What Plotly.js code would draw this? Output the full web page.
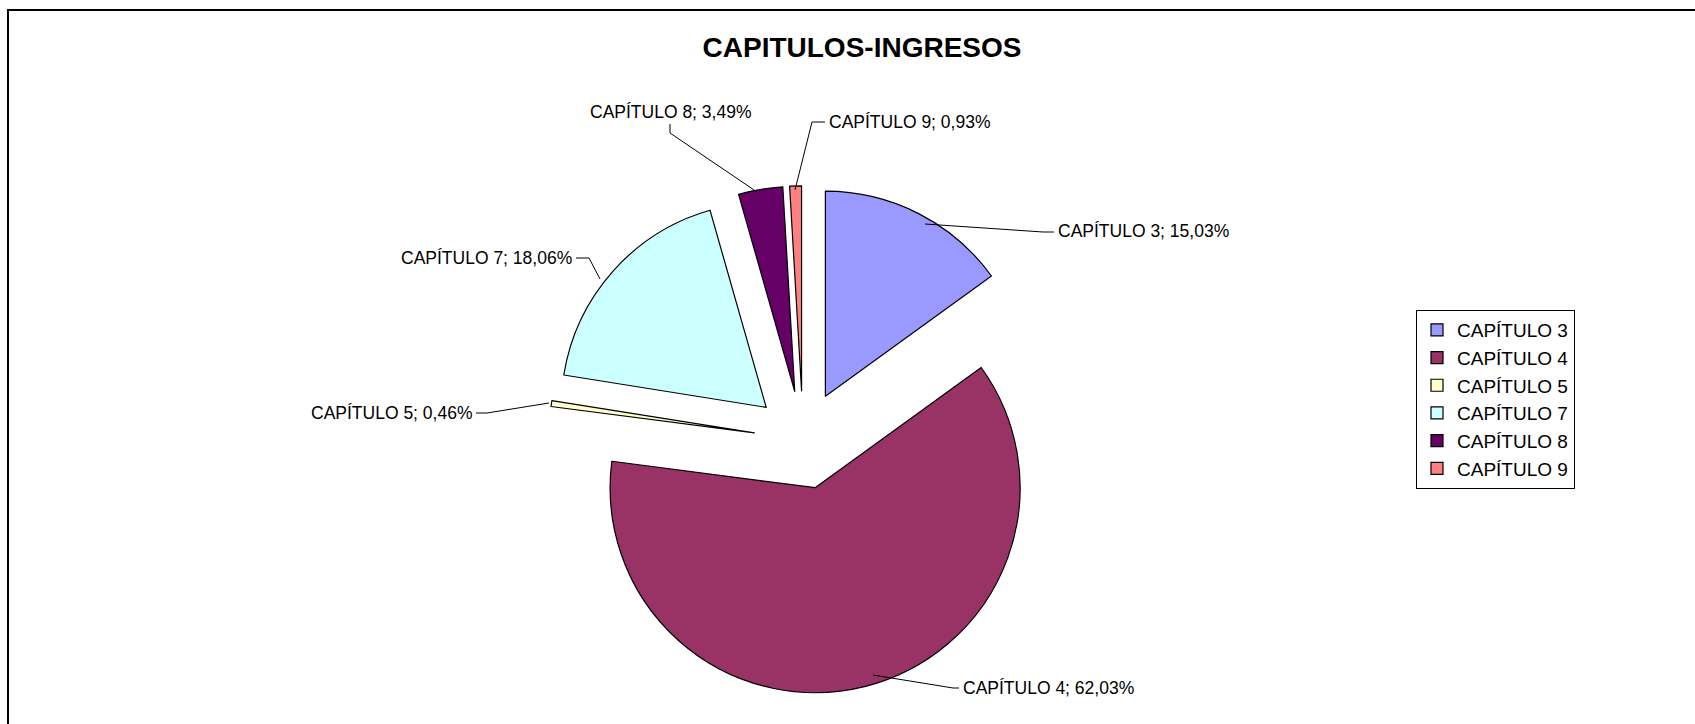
<!DOCTYPE html>
<html>
<head>
<meta charset="utf-8">
<script src="https://cdn.plot.ly/plotly-3.0.1.min.js"></script>
<style>
  html, body { margin: 0; padding: 0; background: #ffffff; }
  #chart { width: 1695px; height: 724px; }
</style>
</head>
<body>
<div id="chart"></div>
<script>
// ---- data ----
const categories = ["CAPÍTULO 3", "CAPÍTULO 4", "CAPÍTULO 5", "CAPÍTULO 7", "CAPÍTULO 8", "CAPÍTULO 9"];
const percentages = [15.03, 62.03, 0.46, 18.06, 3.49, 0.93];
const sliceColors = ["#9999FF", "#993366", "#FFFFCC", "#CCFFFF", "#660066", "#FF8080"];
const chartTitle = "CAPITULOS-INGRESOS";

// ---- layout helpers (pixel -> paper, margins are 0) ----
const W = 1695, H = 724;
const px = x => x / W;
const py = y => 1 - y / H;
const FONT = "Liberation Sans, Arial, sans-serif";

function labelText(i) {
  return categories[i] + "; " + percentages[i].toFixed(2).replace(".", ",") + "%";
}

// label placement: [text x, text y, anchor, leader path points]
const labelPlacement = [
  { x: 1056, y: 231, anchor: "left",  path: [[925, 224], [1043, 232], [1054, 232]] },
  { x: 961,  y: 688, anchor: "left",  path: [[873, 675], [953, 688], [959, 688]] },
  { x: 474,  y: 413, anchor: "right", path: [[549, 403], [487, 413], [476, 413]] },
  { x: 574,  y: 258, anchor: "right", path: [[600, 279], [589, 258], [576, 258]] },
  { x: 588,  y: 112, anchor: "left",  path: [[757, 192], [670, 133], [670, 124]] },
  { x: 827,  y: 122, anchor: "left",  path: [[795, 190], [812, 122], [825, 122]] }
];

const annotations = categories.map((c, i) => ({
  xref: "paper", yref: "paper",
  x: px(labelPlacement[i].x), y: py(labelPlacement[i].y),
  xanchor: labelPlacement[i].anchor, yanchor: "middle",
  text: labelText(i), showarrow: false,
  font: { family: FONT, size: 17.5, color: "#000000" }
}));

const shapes = labelPlacement.map(p => ({
  type: "path", xref: "paper", yref: "paper",
  path: p.path.map((pt, k) => (k === 0 ? "M" : "L") + px(pt[0]) + "," + py(pt[1])).join(" "),
  line: { color: "#000000", width: 1 }
}));

// chart frame (left and top border)
shapes.push({ type: "line", xref: "paper", yref: "paper", x0: px(8), y0: py(10), x1: px(8), y1: py(730), line: { color: "#000000", width: 2 } });
shapes.push({ type: "line", xref: "paper", yref: "paper", x0: px(7), y0: py(10), x1: px(1700), y1: py(10), line: { color: "#000000", width: 2 } });

const trace = {
  type: "pie",
  labels: categories,
  values: percentages,
  sort: false,
  direction: "clockwise",
  rotation: 0,
  pull: 0.24,
  textinfo: "none",
  hoverinfo: "skip",
  marker: { colors: sliceColors, line: { color: "#000000", width: 1.2 } },
  domain: { x: [0.32378, 0.62372], y: [0.04116, 0.74337] },
  showlegend: true
};

const layout = {
  width: W, height: H,
  margin: { l: 0, r: 0, t: 0, b: 0 },
  paper_bgcolor: "#ffffff",
  plot_bgcolor: "#ffffff",
  title: {
    text: chartTitle,
    x: px(862), xanchor: "center",
    y: py(47), yanchor: "middle",
    xref: "paper", yref: "paper",
    font: { family: FONT, size: 28, weight: "bold", color: "#000000" }
  },
  legend: {
    x: px(1416), y: py(310), xanchor: "left", yanchor: "top",
    bgcolor: "#ffffff", bordercolor: "#000000", borderwidth: 1,
    font: { family: FONT, size: 19, color: "#000000" },
    itemwidth: 30,
    traceorder: "normal"
  },
  annotations: annotations,
  shapes: shapes
};

Plotly.newPlot("chart", [trace], layout, { staticPlot: true, displayModeBar: false });
</script>
</body>
</html>
